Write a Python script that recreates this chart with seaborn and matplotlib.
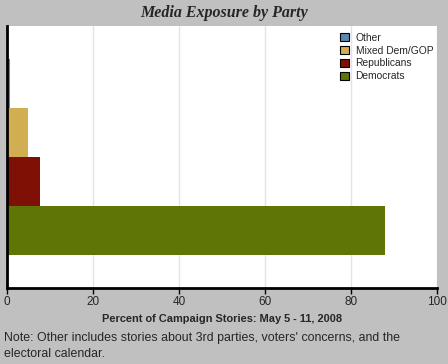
import matplotlib
matplotlib.use("Agg")
import matplotlib.pyplot as plt
import seaborn as sns
import pandas as pd

# values (percent of campaign stories)
parties = ["Other", "Mixed Dem/GOP", "Republicans", "Democrats"]
shares = [0.7, 4.8, 7.7, 87.9]
colors = ["#5b87ad", "#d2ae52", "#7e1006", "#5f7505"]

dat = pd.DataFrame({
    "group": ["all"] * len(parties),
    "party": parties,
    "share": shares,
})

sns.set_style("white")
plt.rcParams["font.family"] = ["Liberation Sans", "DejaVu Sans"]

fig = plt.figure(figsize=(4.48, 3.64), dpi=100, facecolor="#c0c0c0")
ax = fig.add_axes([7 / 448, 1 - 288 / 364, 430 / 448, 262.5 / 364])
ax.set_facecolor("white")

sns.barplot(data=dat, x="share", y="group", hue="party", hue_order=parties,
            palette=colors, orient="h", width=0.748, saturation=1,
            linewidth=0, ax=ax, zorder=3)

ax.set_xlim(0, 100)
ax.set_ylim(0.5, -0.5)
ax.set_xticks([0, 20, 40, 60, 80, 100])
ax.set_yticks([])
ax.set_ylabel("")
ax.xaxis.grid(True, color="#e4e4e4", linewidth=1)
ax.set_axisbelow(True)
for side in ["top", "right"]:
    ax.spines[side].set_visible(False)
for side in ["left", "bottom"]:
    ax.spines[side].set_color("black")
    ax.spines[side].set_linewidth(2)
    ax.spines[side].set_zorder(4)
ax.tick_params(axis="x", bottom=True, length=4, width=1, color="black",
               labelsize=8.5, pad=2)
ax.set_xlabel("Percent of Campaign Stories: May 5 - 11, 2008",
              fontsize=7.9, fontweight="bold", labelpad=4)

leg = ax.legend(loc="upper right", frameon=False, fontsize=7.4,
                handlelength=0.9, handleheight=0.9, handletextpad=0.6,
                labelspacing=0.28, borderaxespad=0.3,
                bbox_to_anchor=(1.008, 1.0))
for h in leg.legend_handles:
    h.set_edgecolor("black")
    h.set_linewidth(0.8)

fig.text(0.5, 1 - 13 / 364, "Media Exposure by Party", ha="center", va="center",
         fontsize=11.5, fontweight="bold", fontstyle="italic",
         family="Liberation Serif")
fig.text(4 / 448, 1 - 332 / 364,
         "Note: Other includes stories about 3rd parties, voters' concerns, and the\nelectoral calendar.",
         ha="left", va="top", fontsize=8.9, linespacing=1.4)

fig.savefig("out.png", dpi=100, facecolor=fig.get_facecolor())
